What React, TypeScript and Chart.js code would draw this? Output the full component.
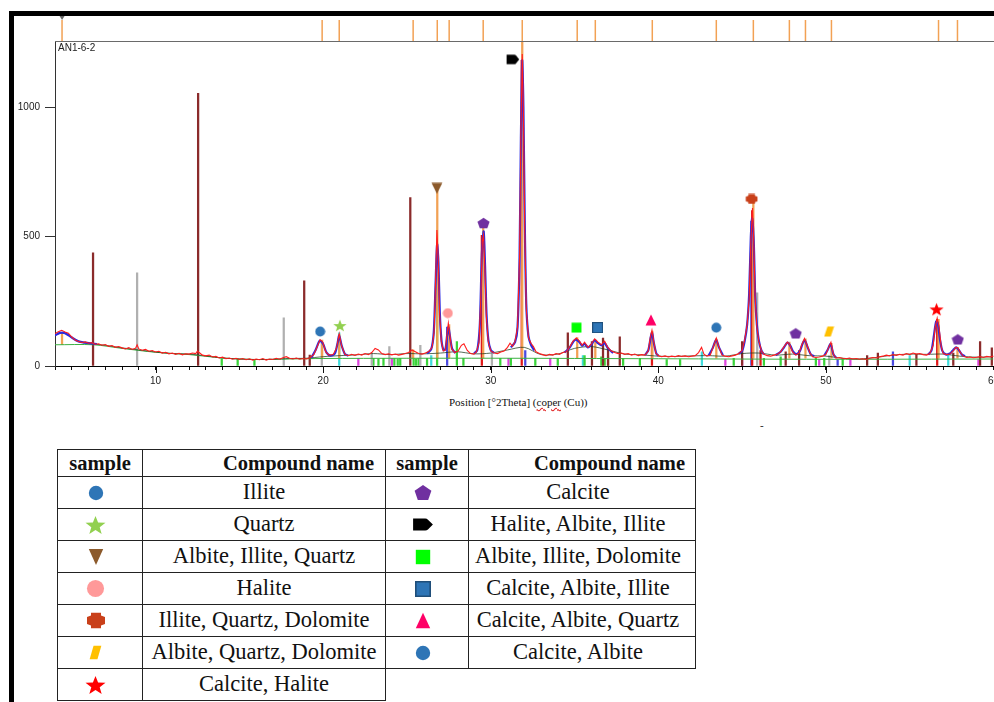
import React, { useEffect, useRef } from 'react';
import { Chart, registerables } from 'chart.js';
Chart.register(...registerables);

// ---------- DATA ----------
const sampleName = 'AN1-6-2';
const xTitleParts = ['Position [°2Theta] (', 'coper', ' (Cu))'];
const xMin = 4;
const xMax = 60;
const yMax = 1255;
const xLabelValues = [10, 20, 30, 40, 50, 60];
const yTickValues = [0, 500, 1000];

// measured pattern (2theta, counts)
const measured: [number, number][] = [
  [4.0,125],[4.2,132],[4.4,138],[4.6,131],[4.8,127],[5.0,112],[5.2,100],[5.4,95],[5.6,91],[5.8,93],[6.0,88],[6.2,90],[6.4,84],[6.6,86],[6.8,80],[7.0,83],[7.2,76],[7.4,79],[7.6,72],[7.8,75],[8.0,70],[8.2,66],[8.4,71],[8.6,64],[8.8,68],[8.9,82],[9.0,66],[9.2,61],[9.4,64],[9.6,57],[9.8,60],[10.0,54],[10.2,57],[10.4,50],[10.6,53],[10.8,47],[11.0,50],[11.2,45],[11.4,49],[11.6,43],[11.8,47],[12.0,46],[12.2,50],[12.4,48],[12.5,58],[12.6,52],[12.8,42],[13.0,39],[13.2,42],[13.4,35],[13.6,37],[13.8,31],[14.0,34],[14.2,28],[14.4,31],[14.6,26],[14.8,30],[15.0,25],[15.2,29],[15.4,24],[15.6,28],[15.8,23],[16.0,27],[16.2,24],[16.4,29],[16.6,23],[16.8,27],[17.0,25],[17.2,30],[17.4,26],[17.6,32],[17.8,36],[18.0,30],[18.2,27],[18.4,31],[18.6,26],[18.8,29],[19.0,27],[19.2,32],[19.45,45],[19.65,75],[19.82,102],[19.98,92],[20.15,55],[20.35,42],[20.6,44],[20.8,70],[20.96,124],[21.1,78],[21.3,45],[21.5,40],[21.7,45],[21.9,41],[22.1,46],[22.3,42],[22.5,48],[22.7,44],[22.9,52],[23.1,68],[23.3,62],[23.5,48],[23.7,44],[23.9,47],[24.1,43],[24.3,46],[24.5,42],[24.7,45],[24.9,48],[25.1,52],[25.3,62],[25.5,55],[25.7,48],[25.9,46],[26.1,50],[26.3,56],[26.5,72],[26.62,130],[26.7,310],[26.79,525],[26.87,410],[26.95,200],[27.05,95],[27.17,58],[27.3,62],[27.4,128],[27.47,165],[27.55,125],[27.68,65],[27.85,52],[28.05,58],[28.25,80],[28.4,86],[28.6,60],[28.8,48],[29.0,46],[29.15,55],[29.3,90],[29.4,250],[29.5,480],[29.57,505],[29.65,380],[29.74,190],[29.85,95],[30.0,58],[30.2,50],[30.4,48],[30.6,54],[30.8,58],[31.0,72],[31.15,88],[31.3,76],[31.45,95],[31.6,150],[31.72,420],[31.8,900],[31.88,1205],[31.95,980],[32.03,520],[32.12,220],[32.25,110],[32.4,88],[32.55,75],[32.7,55],[32.9,48],[33.1,44],[33.3,40],[33.5,45],[33.7,42],[33.9,48],[34.1,45],[34.3,52],[34.5,55],[34.7,72],[34.9,95],[35.1,108],[35.3,96],[35.45,80],[35.6,92],[35.8,72],[36.0,84],[36.2,105],[36.4,92],[36.6,82],[36.8,96],[37.0,70],[37.2,58],[37.4,52],[37.6,48],[37.8,50],[38.0,45],[38.2,48],[38.4,42],[38.6,46],[38.8,40],[39.0,44],[39.2,42],[39.4,58],[39.52,110],[39.62,138],[39.72,98],[39.85,50],[40.0,40],[40.2,36],[40.4,39],[40.6,35],[40.8,38],[41.0,36],[41.2,40],[41.4,37],[41.6,39],[41.8,36],[42.0,38],[42.2,40],[42.4,52],[42.58,72],[42.72,46],[42.9,38],[43.1,42],[43.3,78],[43.46,108],[43.6,76],[43.8,42],[44.0,38],[44.2,36],[44.4,39],[44.6,42],[44.8,48],[45.0,60],[45.15,100],[45.3,160],[45.42,260],[45.52,480],[45.62,610],[45.7,470],[45.78,260],[45.88,150],[46.0,95],[46.15,60],[46.3,45],[46.5,40],[46.7,38],[46.9,42],[47.1,45],[47.3,55],[47.5,75],[47.7,92],[47.85,82],[48.0,55],[48.2,42],[48.4,50],[48.55,80],[48.72,106],[48.88,80],[49.05,50],[49.2,36],[49.4,33],[49.6,35],[49.8,38],[50.0,45],[50.15,70],[50.3,92],[50.45,45],[50.6,30],[50.8,33],[51.0,30],[51.2,28],[51.4,31],[51.6,27],[51.8,29],[52.0,26],[52.2,28],[52.4,25],[52.6,30],[52.8,33],[53.0,31],[53.2,36],[53.4,38],[53.6,42],[53.8,39],[54.0,44],[54.2,41],[54.4,45],[54.6,42],[54.8,48],[55.0,44],[55.2,50],[55.4,46],[55.6,48],[55.8,44],[56.0,42],[56.2,48],[56.4,80],[56.52,150],[56.64,185],[56.75,150],[56.88,75],[57.0,48],[57.2,44],[57.4,46],[57.6,58],[57.75,72],[57.88,70],[58.05,50],[58.2,38],[58.4,33],[58.6,35],[58.8,32],[59.0,34],[59.2,36],[59.4,33],[59.6,37],[59.8,35],[60.0,38]
];

// calculated profile around peaks (null = gap)
const fitted: [number, number | null][] = [
  [4.0,118],[4.3,128],[4.6,127],[5.0,110],[5.4,95],[5.8,90],[6.2,87],[6.5,85],[6.6,null],
  [19.3,32],[19.55,62],[19.8,98],[20.0,85],[20.2,52],[20.45,40],[20.7,48],[20.85,85],[20.96,118],[21.1,80],[21.3,46],[21.5,40],[21.6,null],
  [26.2,48],[26.45,65],[26.6,130],[26.7,300],[26.8,470],[26.88,400],[26.96,210],[27.06,100],[27.18,62],[27.3,65],[27.4,120],[27.48,150],[27.56,118],[27.7,66],[27.9,50],[28.0,null],
  [29.0,48],[29.2,62],[29.35,160],[29.47,430],[29.58,520],[29.66,390],[29.75,200],[29.86,100],[30.0,62],[30.2,50],[30.3,null],
  [31.2,72],[31.45,92],[31.6,150],[31.72,420],[31.8,880],[31.88,1180],[31.95,1000],[32.03,560],[32.12,240],[32.25,115],[32.4,82],[32.6,60],[32.7,null],
  [34.4,52],[34.7,70],[34.95,96],[35.1,102],[35.3,92],[35.45,78],[35.6,86],[35.8,72],[36.0,82],[36.2,100],[36.4,88],[36.6,80],[36.8,88],[37.0,68],[37.3,50],[37.4,null],
  [39.2,42],[39.4,60],[39.55,112],[39.63,128],[39.73,90],[39.88,48],[40.0,40],[40.1,null],
  [43.0,40],[43.25,70],[43.45,102],[43.62,72],[43.85,42],[44.0,null],
  [44.8,48],[45.0,58],[45.15,95],[45.3,160],[45.42,280],[45.52,500],[45.6,570],[45.7,470],[45.78,270],[45.88,160],[46.0,98],[46.15,60],[46.3,45],[46.4,null],
  [47.0,42],[47.3,55],[47.5,72],[47.7,90],[47.88,78],[48.05,55],[48.25,46],[48.45,58],[48.6,85],[48.74,100],[48.9,74],[49.1,45],[49.3,38],[49.4,null],
  [49.9,40],[50.1,62],[50.28,85],[50.45,45],[50.6,32],[50.7,null],
  [56.1,44],[56.3,60],[56.45,120],[56.58,172],[56.68,165],[56.8,105],[56.95,58],[57.15,45],[57.4,48],[57.6,62],[57.78,72],[57.95,60],[58.1,45],[58.3,38],[58.4,null]
];

// smooth background trace
const bgTrace: [number, number][] = [
  [4,120],[4.5,128],[5,110],[5.5,93],[6,87],[7,80],[8,70],[9,62],[10,54],[11,48],[12,46],[13,39],[14,31],[15,27],[16,25],[17,26],[18,29],[19,30],[20,36],[21,40],[22,43],[23,48],[24,44],[25,48],[26,47],[27,50],[28,55],[29,47],[30,50],[31,62],[32,72],[33,44],[34,46],[35,68],[36,75],[37,62],[38,46],[39,43],[40,38],[41,37],[42,39],[43,40],[44,38],[45,48],[46,50],[47,42],[48,46],[49,40],[50,38],[51,30],[52,27],[53,33],[54,42],[55,46],[56,45],[57,46],[58,38],[59,34],[60,36]
];

// fitted baseline
const baseline: [number, number][] = [
  [4,82],[6.3,82],[8,68],[10,53],[12,44],[14,31],[16,25],[18,27],[20,29],[30,30],[40,28],[50,26],[60,27]
];

// peak list (positions shown as ticks above plot and as sticks)
const peakPos = [4.42, 19.94, 20.96, 25.37, 26.81, 27.52, 29.55, 31.88, 35.16, 36.24, 39.64, 43.46, 45.67, 47.82, 48.78, 50.33, 56.72, 57.85];
const peakBase = [82, 30, 30, 30, 30, 30, 30, 30, 30, 30, 30, 30, 30, 30, 30, 30, 30, 30];
const peakTop = [130, 100, 122, 62, 690, 160, 540, 1260, 110, 100, 135, 105, 640, 92, 105, 88, 180, 72];

// reference pattern sticks
const maroonSticks: [number, number][] = [
  [6.27,437],[12.54,1053],[18.87,329],[19.2,42],[25.2,650],[34.6,128],[36.04,94],[36.7,108],[37.0,70],[37.7,113],[45.0,94],[47.6,55],[48.4,60],[52.46,40],[53.1,50],[55.4,45],[57.6,50],[59.2,94],[59.9,70]
];
const graySticks: [number, number][] = [
  [8.9,360],[17.65,186],[19.92,90],[22.9,50],[23.95,75],[25.8,80],[30.07,48],[45.9,283],[50.2,40]
];
const greenSticks: [number, number][] = [
  [13.95,28],[14.9,26],[15.9,26],[23.0,30],[23.3,28],[23.6,30],[24.25,30],[24.45,28],[24.6,30],[25.4,30],[25.55,28],[25.7,30],[26.2,30],[26.8,450],[27.98,94],[28.37,30],[30.57,30],[31.2,30],[32.66,30],[34.0,30],[35.6,40],[36.6,35],[36.8,30],[37.0,35],[37.9,30],[38.9,30],[40.5,25],[41.3,25],[44.5,30],[46.3,30],[47.3,35],[49.4,30],[49.9,30],[51.0,28]
];
const magentaSticks: [number, number][] = [
  [22.1,30],[24.1,30],[31.06,30],[33.55,30],[44.0,25],[45.0,30],[49.6,25],[51.46,25],[59.1,25]
];
const cyanSticks: [number, number][] = [
  [20.96,128],[26.45,40],[35.5,40],[42.6,55],[55.0,40],[57.3,40]
];
const blueSticks: [number, number][] = [
  [27.4,150],[32.06,60],[45.55,560],[50.7,25],[54.0,55]
];
const redSticks: [number, number][] = [
  [29.47,505],[31.85,1180],[39.62,130],[45.6,600],[46.1,60],[56.64,180]
];

// identified phases: markers on the pattern
const markerX = [19.82, 21.0, 26.79, 27.44, 29.57, 31.32, 35.12, 36.38, 39.56, 43.46, 45.57, 48.2, 50.19, 56.6, 57.87];
const markerY = [133, 156, 686, 204, 552, 1184, 148, 148, 178, 148, 645, 126, 133, 219, 103];
const markerKind = ['illite', 'quartz', 'aiq', 'halite', 'calcite', 'hai', 'aid', 'cai', 'caq', 'ca', 'iqd', 'calcite', 'aqd', 'ch', 'calcite'];

// table contents
const tableHeader = ['sample', 'Compound name'];
const leftKinds = ['illite', 'quartz', 'aiq', 'halite', 'iqd', 'aqd', 'ch'];
const leftNames = ['Illite', 'Quartz', 'Albite, Illite, Quartz', 'Halite', 'Illite, Quartz, Dolomite', 'Albite, Quartz, Dolomite', 'Calcite, Halite'];
const rightKinds = ['calcite', 'hai', 'aid', 'cai', 'caq', 'ca'];
const rightNames = ['Calcite', 'Halite, Albite, Illite', 'Albite, Illite, Dolomite', 'Calcite, Albite, Illite', 'Calcite, Albite, Quartz', 'Calcite, Albite'];

// ---------- SHAPES ----------
function starPath(cx: number, cy: number, R: number, r: number) {
  let d = '';
  for (let i = 0; i < 10; i++) {
    const a = -Math.PI / 2 + (i * Math.PI) / 5;
    const rad = i % 2 === 0 ? R : r;
    d += (i === 0 ? 'M' : 'L') + (cx + rad * Math.cos(a)).toFixed(2) + ' ' + (cy + rad * Math.sin(a)).toFixed(2) + ' ';
  }
  return d + 'Z';
}
function polyPath(n: number, cx: number, cy: number, R: number) {
  let d = '';
  for (let i = 0; i < n; i++) {
    const a = -Math.PI / 2 + (i * 2 * Math.PI) / n;
    d += (i === 0 ? 'M' : 'L') + (cx + R * Math.cos(a)).toFixed(2) + ' ' + (cy + R * Math.sin(a)).toFixed(2) + ' ';
  }
  return d + 'Z';
}
const SHAPES: Record<string, string> = {
  circle: 'M1 10A9 9 0 1 0 19 10A9 9 0 1 0 1 10Z',
  star: starPath(10, 10.9, 10, 4.2),
  triDown: 'M1 1L19 1L10 19Z',
  triUp: 'M10 1L19 19L1 19Z',
  octo: 'M5 1L15 1L15 4L19 6L19 14L15 16L15 19L5 19L5 16L1 14L1 6L5 4Z',
  para: 'M7 1L19 1L13 19L1 19Z',
  pentagon: polyPath(5, 10, 10.9, 9.8),
  tag: 'M1 2L12 2Q13.5 2 14.5 3.5L19 10L14.5 16.5Q13.5 18 12 18L1 18Z',
  square: 'M1 1H19V19H1Z',
};
type Kind = { shape: string; fill: string; stroke?: string; tw: number; th: number; cw: number; ch: number };
const KINDS: Record<string, Kind> = {
  illite: { shape: 'circle', fill: '#2e75b6', tw: 16, th: 16, cw: 11, ch: 11 },
  quartz: { shape: 'star', fill: '#92d050', tw: 21, th: 20, cw: 14, ch: 13 },
  aiq: { shape: 'triDown', fill: '#8c5a2b', tw: 16, th: 18, cw: 12, ch: 12 },
  halite: { shape: 'circle', fill: '#ff9999', tw: 19, th: 19, cw: 11, ch: 11 },
  iqd: { shape: 'octo', fill: '#c9401a', tw: 20, th: 17, cw: 13, ch: 11 },
  aqd: { shape: 'para', fill: '#ffc000', tw: 13, th: 15, cw: 11, ch: 11 },
  ch: { shape: 'star', fill: '#ff0000', tw: 21, th: 20, cw: 15, ch: 14 },
  calcite: { shape: 'pentagon', fill: '#7030a0', tw: 18, th: 17, cw: 13, ch: 12 },
  hai: { shape: 'tag', fill: '#000000', tw: 22, th: 15, cw: 14, ch: 12 },
  aid: { shape: 'square', fill: '#00ff00', tw: 16, th: 16, cw: 11, ch: 11 },
  cai: { shape: 'square', fill: '#2e75b6', stroke: '#1f4e79', tw: 16, th: 16, cw: 11, ch: 11 },
  caq: { shape: 'triUp', fill: '#ff0066', tw: 16, th: 17, cw: 12, ch: 12 },
  ca: { shape: 'circle', fill: '#2e75b6', tw: 16, th: 16, cw: 11, ch: 11 },
};

function makeMarker(kind: string): HTMLCanvasElement {
  const k = KINDS[kind];
  const c = document.createElement('canvas');
  c.width = k.cw;
  c.height = k.ch;
  const ctx = c.getContext('2d')!;
  ctx.scale(k.cw / 20, k.ch / 20);
  const p = new Path2D(SHAPES[k.shape]);
  ctx.fillStyle = k.fill;
  ctx.fill(p);
  if (k.stroke) {
    ctx.strokeStyle = k.stroke;
    ctx.lineWidth = 2;
    ctx.stroke(p);
  }
  return c;
}

function Icon({ kind }: { kind: string }) {
  const k = KINDS[kind];
  return (
    <svg width={k.tw} height={k.th} viewBox="0 0 20 20" preserveAspectRatio="none" style={{ display: 'block', margin: '0 auto' }}>
      <path d={SHAPES[k.shape]} fill={k.fill} stroke={k.stroke || 'none'} strokeWidth={k.stroke ? 2 : 0} />
    </svg>
  );
}

const xy = (arr: [number, number | null][]) => arr.map(([x, y]) => ({ x, y }));

function stickSet(arr: [number, number][], color: string, order: number) {
  return {
    type: 'bar' as const,
    data: xy(arr),
    backgroundColor: color,
    borderWidth: 0,
    barThickness: 1.6,
    grouped: false,
    order,
  };
}

const decorPlugin = {
  id: 'decor',
  afterDraw(chart: any) {
    const { ctx, chartArea: a, scales } = chart;
    const x = scales.x;
    ctx.save();
    // top frame line
    ctx.strokeStyle = '#6a6a6a';
    ctx.lineWidth = 1.2;
    ctx.beginPath();
    ctx.moveTo(a.left, a.top + 0.5);
    ctx.lineTo(a.right + 20, a.top + 0.5);
    ctx.stroke();
    // peak-list ticks above the plot
    ctx.strokeStyle = '#f2a154';
    ctx.lineWidth = 1.5;
    peakPos.forEach((v) => {
      const px = x.getPixelForValue(v);
      ctx.beginPath();
      ctx.moveTo(px, a.top - 21);
      ctx.lineTo(px, a.top);
      ctx.stroke();
    });
    // small marker on first peak tick
    const p0 = x.getPixelForValue(peakPos[0]);
    ctx.fillStyle = '#666';
    ctx.beginPath();
    ctx.moveTo(p0 - 2.5, a.top - 25);
    ctx.lineTo(p0 + 2.5, a.top - 25);
    ctx.lineTo(p0, a.top - 21);
    ctx.closePath();
    ctx.fill();
    // longer major ticks
    ctx.strokeStyle = '#111';
    ctx.lineWidth = 1;
    xLabelValues.forEach((v) => {
      const px = Math.round(x.getPixelForValue(v)) + 0.5;
      ctx.beginPath();
      ctx.moveTo(px, a.bottom);
      ctx.lineTo(px, a.bottom + 7);
      ctx.stroke();
    });
    ctx.restore();
  },
};

function XRDChart() {
  const ref = useRef<HTMLCanvasElement>(null);
  useEffect(() => {
    if (!ref.current) return;
    Chart.defaults.font.family = '"Liberation Sans", Arial, sans-serif';
    const markerImgs = markerKind.map((k) => makeMarker(k));
    const chart = new Chart(ref.current, {
      type: 'scatter',
      data: {
        datasets: [
          {
            type: 'scatter',
            data: markerX.map((x, i) => ({ x, y: markerY[i] })),
            pointStyle: markerImgs as any,
            pointRadius: 6,
            order: 0,
          } as any,
          {
            type: 'line',
            data: xy(measured),
            borderColor: '#ff1c1c',
            borderWidth: 1.1,
            pointRadius: 0,
            tension: 0,
            order: 1,
          },
          {
            type: 'line',
            data: xy(fitted),
            borderColor: '#2a2ae0',
            borderWidth: 2.2,
            pointRadius: 0,
            spanGaps: false,
            tension: 0.25,
            order: 2,
          },
          {
            type: 'line',
            data: xy(bgTrace),
            borderColor: 'rgba(29,58,29,0.75)',
            borderWidth: 1,
            pointRadius: 0,
            tension: 0.3,
            order: 3,
          },
          {
            type: 'line',
            data: xy(baseline),
            borderColor: '#3cb043',
            borderWidth: 1,
            pointRadius: 0,
            tension: 0.3,
            order: 4,
          },
          {
            type: 'bar',
            data: peakPos.map((x, i) => ({ x, y: [peakBase[i], peakTop[i]] })),
            backgroundColor: '#f2a154',
            borderWidth: 0,
            barThickness: 1.6,
            grouped: false,
            order: 5,
          } as any,
          stickSet(redSticks, '#e01818', 6),
          stickSet(blueSticks, '#4a4ae0', 6),
          stickSet(maroonSticks, '#8b2b2b', 7),
          stickSet(graySticks, '#b0b0b0', 7),
          stickSet(greenSticks, '#3ad43a', 7),
          stickSet(magentaSticks, '#dd44dd', 7),
          stickSet(cyanSticks, '#40dcdc', 7),
        ] as any,
      },
      options: {
        responsive: false,
        animation: false,
        layout: { padding: { top: 41, right: 18.5, left: 0, bottom: 0 } },
        plugins: { legend: { display: false }, tooltip: { enabled: false } },
        scales: {
          x: {
            type: 'linear',
            min: xMin,
            max: xMax,
            offset: false,
            ticks: {
              stepSize: 1,
              autoSkip: false,
              maxRotation: 0,
              padding: 5,
              color: '#222',
              font: { size: 10 },
              callback: (v: any) => (xLabelValues.includes(Number(v)) ? String(v) : ''),
            },
            grid: { display: true, drawOnChartArea: false, drawTicks: true, tickLength: 4, color: '#111', tickColor: '#111', offset: false },
            border: { display: true, color: '#000', width: 1 },
            afterFit: (s: any) => { s.height = 29; },
          },
          y: {
            type: 'linear',
            min: 0,
            max: yMax,
            afterBuildTicks: (s: any) => { s.ticks = yTickValues.map((v) => ({ value: v })); },
            ticks: { padding: 5, color: '#222', font: { size: 10 }, callback: (v: any) => String(v) },
            grid: { display: true, drawOnChartArea: false, drawTicks: true, tickLength: 10, color: '#333', tickColor: '#333' },
            border: { display: true, color: '#333', width: 1 },
            afterFit: (s: any) => { s.width = 55; },
          },
        },
      } as any,
      plugins: [decorPlugin],
    });
    return () => chart.destroy();
  }, []);
  return <canvas ref={ref} width={1012} height={395} style={{ position: 'absolute', left: 0, top: 0 }} />;
}

const serif = '"Liberation Serif", "Times New Roman", serif';
const cellBorder = '1px solid #222';

function PhaseTable() {
  const td: React.CSSProperties = { border: cellBorder, padding: 0, textAlign: 'center', verticalAlign: 'middle', lineHeight: '1' };
  const th: React.CSSProperties = { ...td, fontWeight: 'bold', fontSize: 20.5 };
  return (
    <table style={{ position: 'absolute', left: 57, top: 449, borderCollapse: 'collapse', tableLayout: 'fixed', width: 638, fontFamily: serif, color: '#111' }}>
      <colgroup>
        <col style={{ width: 85 }} />
        <col style={{ width: 243 }} />
        <col style={{ width: 83 }} />
        <col style={{ width: 227 }} />
      </colgroup>
      <tbody>
        <tr style={{ height: 27 }}>
          <th style={th}>{tableHeader[0]}</th>
          <th style={{ ...th, textAlign: 'right', paddingRight: 11 }}>{tableHeader[1]}</th>
          <th style={th}>{tableHeader[0]}</th>
          <th style={{ ...th, textAlign: 'right', paddingRight: 10 }}>{tableHeader[1]}</th>
        </tr>
        {leftKinds.map((k, i) => (
          <tr key={i} style={{ height: 32 }}>
            <td style={{ ...td, paddingRight: 9 }}><Icon kind={k} /></td>
            <td style={{ ...td, fontSize: 22.5 }}>{leftNames[i]}</td>
            {i < rightKinds.length && <td style={{ ...td, paddingRight: 9 }}><Icon kind={rightKinds[i]} /></td>}
            {i < rightKinds.length && <td style={{ ...td, fontSize: 22.5, paddingRight: 8 }}>{rightNames[i]}</td>}
          </tr>
        ))}
      </tbody>
    </table>
  );
}

export default function App() {
  return (
    <div style={{ position: 'absolute', left: 0, top: 0, width: 994, height: 702, overflow: 'hidden', background: '#fff' }}>
      <div style={{ position: 'absolute', left: 9, top: 11, width: 1100, height: 800, borderLeft: '5px solid #000', borderTop: '5px solid #000' }} />
      <XRDChart />
      <div style={{ position: 'absolute', left: 58, top: 42, fontFamily: '"Liberation Sans", Arial, sans-serif', fontSize: 10, color: '#222' }}>{sampleName}</div>
      <div style={{ position: 'absolute', left: 449, top: 396, fontFamily: serif, fontSize: 11, color: '#111', whiteSpace: 'nowrap' }}>
        {xTitleParts[0]}
        <span style={{ textDecoration: 'underline wavy #e02020' }}>{xTitleParts[1]}</span>
        {xTitleParts[2]}
      </div>
      <div style={{ position: 'absolute', left: 760, top: 419, fontFamily: serif, fontSize: 11, color: '#111' }}>-</div>
      <PhaseTable />
    </div>
  );
}
